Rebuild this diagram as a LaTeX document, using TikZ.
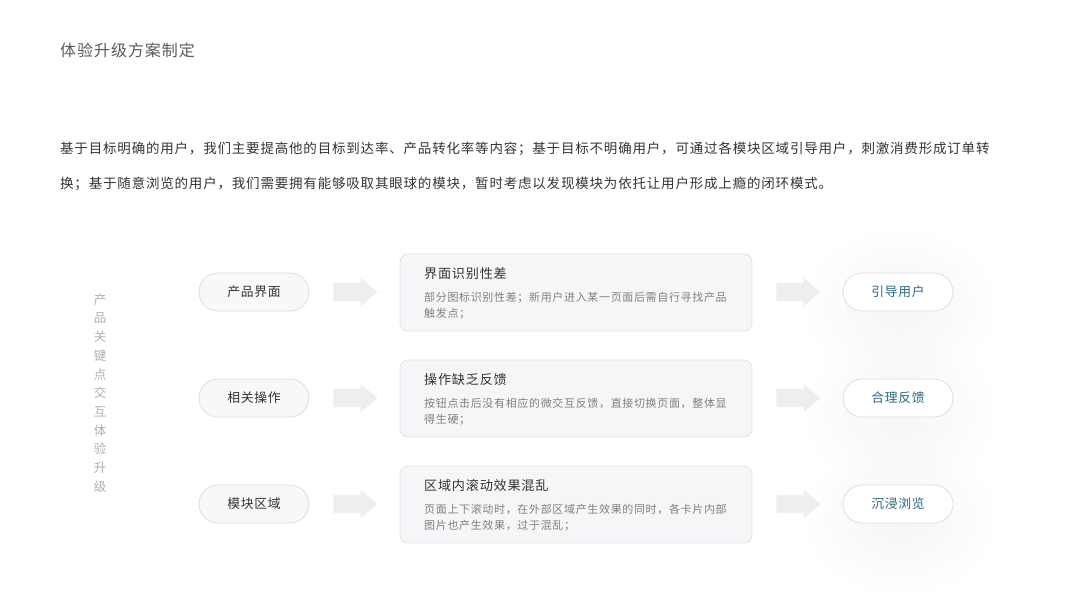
\documentclass[tikz,border=0pt]{standalone}
\usepackage{fontspec}
\setmainfont{Noto Sans CJK SC}
\newfontfamily\cjkfont[LetterSpace=6]{Noto Sans CJK SC}
\usepackage{tikz}
\usetikzlibrary{shapes.arrows,fadings}
\definecolor{titlegray}{RGB}{90,90,90}
\definecolor{textdark}{RGB}{51,51,51}
\definecolor{descgray}{RGB}{128,128,128}
\definecolor{sidegray}{RGB}{175,175,175}
\definecolor{pillline}{RGB}{222,222,224}
\definecolor{pillfill}{RGB}{248,248,250}
\definecolor{boxfill}{RGB}{246,246,249}
\definecolor{boxline}{RGB}{226,226,230}
\definecolor{arrowgray}{RGB}{238,238,238}
\definecolor{tealtext}{RGB}{44,104,128}
\tikzfading[name=glowfade, inner color=transparent!0, outer color=transparent!100]
\tikzset{
  pill/.style={rounded corners=19pt,draw=pillline,line width=0.8pt,minimum width=110pt,minimum height=38pt,inner sep=0pt,font=\cjkfont\fontsize{12.8}{16}\selectfont},
  pillleft/.style={pill,fill=pillfill,text=textdark},
  pillright/.style={pill,fill=white,text=tealtext},
  issuebox/.style={rounded corners=8pt,draw=boxline,line width=0.8pt,fill=boxfill,minimum width=352pt,minimum height=77pt,inner sep=0pt},
  boxtitle/.style={anchor=base west,inner sep=0pt,text=textdark,font=\cjkfont\fontsize{13.1}{16}\selectfont},
  boxdesc/.style={anchor=base west,inner sep=0pt,align=left,text=descgray,font=\cjkfont\fontsize{11}{16}\selectfont},
  blockarrow/.style={single arrow,fill=arrowgray,draw=none,minimum height=44pt,text height=9pt,text depth=9pt,single arrow head extend=5pt,single arrow tip angle=80,inner sep=0pt},
}
\begin{document}
\begin{tikzpicture}[x=1pt,y=-1pt]
  \useasboundingbox (0,0) rectangle (1067,600);
  % heading and paragraph
  \node (title) at (60,56) [anchor=base west,inner sep=0pt,text=titlegray,font=\cjkfont\fontsize{16}{20}\selectfont] {体验升级方案制定};
  \node (para1) at (60,153) [anchor=base west,inner sep=0pt,text=textdark,font=\cjkfont\fontsize{13.5}{20}\selectfont] {基于目标明确的用户，我们主要提高他的目标到达率、产品转化率等内容；基于目标不明确用户，可通过各模块区域引导用户，刺激消费形成订单转};
  \node (para2) at (60,188) [anchor=base west,inner sep=0pt,text=textdark,font=\cjkfont\fontsize{13.5}{20}\selectfont] {换；基于随意浏览的用户，我们需要拥有能够吸取其眼球的模块，暂时考虑以发现模块为依托让用户形成上瘾的闭环模式。};
  % side label
  \node (side) at (100,393) [align=center,inner sep=0pt,text=sidegray,font=\fontsize{12.5}{18.7}\selectfont] {产\\品\\关\\键\\点\\交\\互\\体\\验\\升\\级};
  % glow behind result pills
  \fill [black!4,path fading=glowfade] (900,306) ellipse (100pt and 80pt);
  \fill [black!4,path fading=glowfade] (900,412) ellipse (100pt and 80pt);
  \fill [black!4,path fading=glowfade] (900,518) ellipse (100pt and 80pt);
  % row 1
  \node (src1) at (254,292) [pillleft] {产品界面};
  \node (arl1) at (350,292) [blockarrow] {};
  \node (box1) at (576,292.5) [issuebox] {};
  \node (bt1) at (424,278) [boxtitle] {界面识别性差};
  \node (bd1) at (424,317) [boxdesc] {部分图标识别性差；新用户进入某一页面后需自行寻找产品\\触发点；};
  \node (arr1) at (793,292) [blockarrow] {};
  \node (res1) at (898,292) [pillright] {引导用户};
  % row 2
  \node (src2) at (254,398) [pillleft] {相关操作};
  \node (arl2) at (350,398) [blockarrow] {};
  \node (box2) at (576,398.5) [issuebox] {};
  \node (bt2) at (424,384) [boxtitle] {操作缺乏反馈};
  \node (bd2) at (424,423) [boxdesc] {按钮点击后没有相应的微交互反馈，直接切换页面，整体显\\得生硬；};
  \node (arr2) at (793,398) [blockarrow] {};
  \node (res2) at (898,398) [pillright] {合理反馈};
  % row 3
  \node (src3) at (254,504) [pillleft] {模块区域};
  \node (arl3) at (350,504) [blockarrow] {};
  \node (box3) at (576,504.5) [issuebox] {};
  \node (bt3) at (424,490) [boxtitle] {区域内滚动效果混乱};
  \node (bd3) at (424,529) [boxdesc] {页面上下滚动时，在外部区域产生效果的同时，各卡片内部\\图片也产生效果，过于混乱；};
  \node (arr3) at (793,504) [blockarrow] {};
  \node (res3) at (898,504) [pillright] {沉浸浏览};
\end{tikzpicture}
\end{document}
